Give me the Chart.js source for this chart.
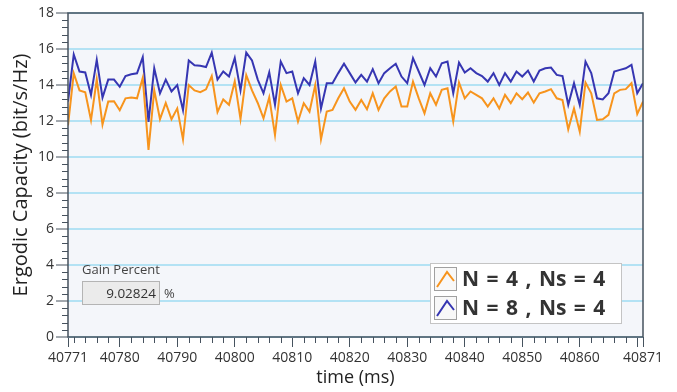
<!DOCTYPE html>
<html>
<head>
<meta charset="utf-8">
<script src="https://cdn.jsdelivr.net/npm/chart.js@4"></script>
<style>
    body { margin: 0; background: #fff; }
    #wrap { position: relative; width: 677px; height: 392px; }
    #gain-label { position: absolute; left: 82px; top: 260px; font: 13px "Open Sans", sans-serif; color: #444; }
    #gain-box { position: absolute; left: 82px; top: 281px; width: 78px; height: 24px; box-sizing: border-box;
                background: #ebebeb; border: 1px solid #b4b4b4; font: 13.5px "Open Sans", sans-serif; color: #333;
                text-align: right; padding-right: 3px; line-height: 22px; }
    #gain-unit { position: absolute; left: 164px; top: 284px; font: 13px "Open Sans", sans-serif; color: #444; }
</style>
</head>
<body>
<div id="wrap">
    <canvas id="chart" width="677" height="392"></canvas>
    <div id="gain-label">Gain Percent</div>
    <div id="gain-box">9.02824</div>
    <div id="gain-unit">%</div>
</div>
<script>
// 
// Chart data:
// 
var times = [
    40771, 40772, 40773, 40774, 40775, 40776, 40777, 40778, 40779, 40780,
    40781, 40782, 40783, 40784, 40785, 40786, 40787, 40788, 40789, 40790,
    40791, 40792, 40793, 40794, 40795, 40796, 40797, 40798, 40799, 40800,
    40801, 40802, 40803, 40804, 40805, 40806, 40807, 40808, 40809, 40810,
    40811, 40812, 40813, 40814, 40815, 40816, 40817, 40818, 40819, 40820,
    40821, 40822, 40823, 40824, 40825, 40826, 40827, 40828, 40829, 40830,
    40831, 40832, 40833, 40834, 40835, 40836, 40837, 40838, 40839, 40840,
    40841, 40842, 40843, 40844, 40845, 40846, 40847, 40848, 40849, 40850,
    40851, 40852, 40853, 40854, 40855, 40856, 40857, 40858, 40859, 40860,
    40861, 40862, 40863, 40864, 40865, 40866, 40867, 40868, 40869, 40870,
    40871
];
var capN4 = [
    11.75, 14.65, 13.70, 13.60, 12.05, 14.30, 11.80, 13.08, 13.10, 12.60,
    13.26, 13.30, 13.26, 14.40, 10.40, 13.70, 12.10, 13.00, 12.10, 12.70,
    10.98, 14.00, 13.70, 13.60, 13.76, 14.50, 12.50, 13.20, 12.90, 14.20,
    12.10, 14.55, 13.70, 13.00, 12.15, 13.32, 11.22, 14.00, 13.08, 13.26,
    11.97, 12.99, 12.52, 14.00, 10.98, 12.52, 12.62, 13.26, 13.82, 13.08,
    12.62, 13.17, 12.65, 13.54, 12.62, 13.26, 13.64, 13.92, 12.80, 12.80,
    14.19, 13.26, 12.43, 13.54, 12.90, 13.73, 13.82, 11.97, 14.14, 13.26,
    13.64, 13.45, 13.26, 12.80, 13.26, 12.70, 13.45, 12.99, 13.54, 13.21,
    13.58, 13.02, 13.54, 13.64, 13.77, 13.26, 13.17, 11.54, 12.70, 11.41,
    14.14, 13.54, 12.06, 12.10, 12.34, 13.54, 13.73, 13.77, 14.10, 12.39,
    13.08
];
var capN8 = [
    13.08, 15.70, 14.75, 14.70, 13.45, 15.40, 13.30, 14.30, 14.30, 13.90,
    14.50, 14.60, 14.65, 15.55, 11.95, 14.93, 13.54, 14.30, 13.64, 14.00,
    12.60, 15.36, 15.10, 15.07, 15.00, 15.80, 14.30, 14.75, 14.47, 15.50,
    13.70, 15.80, 15.36, 14.30, 13.54, 14.71, 12.90, 15.30, 14.66, 14.75,
    13.54, 14.38, 14.00, 15.30, 12.70, 14.10, 14.10, 14.66, 15.18, 14.66,
    14.14, 14.56, 14.19, 14.88, 14.10, 14.66, 14.93, 15.18, 14.47, 14.10,
    15.49, 14.75, 14.00, 14.93, 14.47, 15.21, 15.30, 13.54, 15.25, 14.69,
    14.93, 14.66, 14.50, 14.19, 14.66, 14.00, 14.66, 14.19, 14.75, 14.47,
    14.80, 14.19, 14.80, 14.93, 14.97, 14.56, 14.50, 12.90, 14.10, 12.90,
    15.30, 14.66, 13.26, 13.20, 13.54, 14.75, 14.84, 14.93, 15.12, 13.54,
    14.10
];
var xTickValues = [40771, 40780, 40790, 40800, 40810, 40820, 40830, 40840, 40850, 40860, 40870, 40871];
var xHiddenLabels = [40870];
var seriesNames = ['N = 4 , Ns = 4', 'N = 8 , Ns = 4'];
var gainPercent = '9.02824';

var FONT = '"Open Sans", "Noto Sans", sans-serif';
var AXIS_COLOR = '#46525e';

document.getElementById('gain-box').textContent = gainPercent;

function toPoints(values) {
    return values.map(function (v, i) {
        return {x: times[i], y: v};
    });
}

// 
// Plot background, frame and the minor tick marks:
// 
var framePlugin = {
    id: 'frame',
    beforeDraw: function (chart) {
        var a = chart.chartArea, ctx = chart.ctx;
        ctx.save();
        ctx.fillStyle = '#f4f6fa';
        ctx.fillRect(a.left, a.top, a.right - a.left, a.bottom - a.top);
        ctx.restore();
    },
    afterDraw: function (chart) {
        var a = chart.chartArea, ctx = chart.ctx;
        var xs = chart.scales.x, ys = chart.scales.y;
        ctx.save();
        ctx.strokeStyle = AXIS_COLOR;
        ctx.lineWidth = 1;
        ctx.beginPath();
        for (var t = xs.min + 1; t < xs.max; t += 2) {
            if (xTickValues.indexOf(t) >= 0) {
                continue;
            }
            var px = Math.round(xs.getPixelForValue(t)) + 0.5;
            ctx.moveTo(px, a.bottom);
            ctx.lineTo(px, a.bottom + 6);
        }
        for (var k = 0; k <= 45; ++k) {
            if (k % 5 === 0) {
                continue;
            }
            var py = Math.round(ys.getPixelForValue(k * 0.4)) + 0.5;
            ctx.moveTo(a.left - 6, py);
            ctx.lineTo(a.left, py);
        }
        ctx.stroke();
        ctx.lineWidth = 1.5;
        ctx.strokeRect(a.left, a.top, a.right - a.left, a.bottom - a.top);
        ctx.restore();
    }
};

// 
// Boxed legend inside the plot, bottom right:
// 
var legendPlugin = {
    id: 'boxLegend',
    afterDraw: function (chart) {
        var ctx = chart.ctx, sets = chart.data.datasets;
        var bx = 430, by = 263, bw = 191, bh = 60;
        ctx.save();
        ctx.fillStyle = '#ffffff';
        ctx.fillRect(bx, by, bw, bh);
        ctx.strokeStyle = '#c4c4c4';
        ctx.lineWidth = 1;
        ctx.strokeRect(bx + 0.5, by + 0.5, bw, bh);
        for (var i = 0; i < sets.length; ++i) {
            var cy = by + 16 + i * 29;
            ctx.fillStyle = '#f8f8f8';
            ctx.fillRect(434, cy - 11, 22, 23);
            ctx.strokeStyle = '#a0a0a0';
            ctx.strokeRect(434.5, cy - 11.5, 22, 23);
            ctx.strokeStyle = sets[i].borderColor;
            ctx.lineWidth = 2;
            ctx.beginPath();
            ctx.moveTo(437, cy + 8);
            ctx.lineTo(447, cy - 7);
            ctx.lineTo(454, cy + 2);
            ctx.stroke();
            ctx.lineWidth = 1;
            ctx.fillStyle = '#333';
            ctx.font = 'bold 21px ' + FONT;
            ctx.wordSpacing = '2px';
            ctx.textBaseline = 'middle';
            ctx.fillText(sets[i].label, 462, cy + 1);
        }
        ctx.restore();
    }
};

var chart = new Chart(document.getElementById('chart'), {
    type: 'line',
    data: {
        datasets: [
            {
                label: seriesNames[0],
                data: toPoints(capN4),
                borderColor: '#f7941d',
                borderWidth: 2,
                pointRadius: 0,
                tension: 0
            },
            {
                label: seriesNames[1],
                data: toPoints(capN8),
                borderColor: '#3636b2',
                borderWidth: 2,
                pointRadius: 0,
                tension: 0
            }
        ]
    },
    options: {
        responsive: false,
        animation: false,
        layout: {padding: {top: 13, right: 34, left: 0, bottom: 0}},
        plugins: {
            legend: {display: false},
            tooltip: {enabled: false}
        },
        scales: {
            x: {
                type: 'linear',
                min: 40771,
                max: 40871,
                afterBuildTicks: function (scale) {
                    scale.ticks = xTickValues.map(function (v) {
                        return {value: v};
                    });
                },
                afterFit: function (scale) {
                    scale.height = 55;
                },
                ticks: {
                    autoSkip: false,
                    maxRotation: 0,
                    padding: 3,
                    color: '#333',
                    font: {family: FONT, size: 14},
                    callback: function (v) {
                        return xHiddenLabels.indexOf(v) >= 0 ? '' : String(v);
                    }
                },
                grid: {
                    drawOnChartArea: false,
                    tickLength: 10,
                    tickColor: AXIS_COLOR,
                    tickWidth: 1
                },
                border: {display: false},
                title: {
                    display: true,
                    text: 'time (ms)',
                    color: '#222',
                    font: {family: FONT, size: 18},
                    padding: {top: 3, bottom: 3}
                }
            },
            y: {
                min: 0,
                max: 18,
                afterFit: function (scale) {
                    scale.width = 68;
                },
                ticks: {
                    stepSize: 2,
                    padding: 2,
                    color: '#333',
                    font: {family: FONT, size: 14}
                },
                grid: {
                    color: '#b3e2f4',
                    lineWidth: 2,
                    tickLength: 12,
                    tickColor: AXIS_COLOR,
                    tickWidth: 1
                },
                border: {display: false},
                title: {
                    display: true,
                    text: 'Ergodic Capacity (bit/s/Hz)',
                    color: '#222',
                    font: {family: FONT, size: 20},
                    padding: {top: 9, bottom: 0}
                }
            }
        }
    },
    plugins: [framePlugin, legendPlugin]
});
</script>
</body>
</html>
